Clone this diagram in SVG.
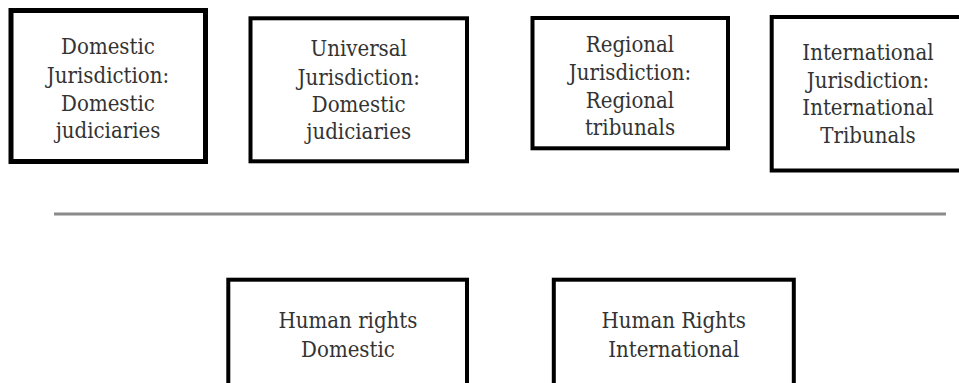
<svg xmlns="http://www.w3.org/2000/svg" width="959" height="383" viewBox="0 0 959 383">
<style>
.box{fill:#fff;stroke:#000;stroke-width:4}
.t{font-family:"DejaVu Serif Condensed","DejaVu Serif","Liberation Serif",serif;font-stretch:condensed;font-size:22px;fill:#333;text-anchor:middle}
</style>
<rect width="959" height="383" fill="#fff"/>
<g id="domestic-jurisdiction">
<rect class="box" x="11" y="10.5" width="194.5" height="151" style="stroke-width:5"/>
<text class="t" x="108" y="54">Domestic</text>
<text class="t" x="108" y="83">Jurisdiction:</text>
<text class="t" x="108" y="111">Domestic</text>
<text class="t" x="108" y="138">judiciaries</text>
</g>
<g id="universal-jurisdiction">
<rect class="box" x="250.5" y="18.3" width="216.5" height="143"/>
<text class="t" x="358.7" y="56">Universal</text>
<text class="t" x="358.7" y="84.5">Jurisdiction:</text>
<text class="t" x="358.7" y="112">Domestic</text>
<text class="t" x="358.7" y="139">judiciaries</text>
</g>
<g id="regional-jurisdiction">
<rect class="box" x="532.5" y="18" width="195.5" height="130.3"/>
<text class="t" x="630" y="52">Regional</text>
<text class="t" x="630" y="80">Jurisdiction:</text>
<text class="t" x="630" y="107.5">Regional</text>
<text class="t" x="630" y="135">tribunals</text>
</g>
<g id="international-jurisdiction">
<rect class="box" x="771.7" y="17" width="195" height="153.5"/>
<text class="t" x="868" y="60">International</text>
<text class="t" x="868" y="87.5">Jurisdiction:</text>
<text class="t" x="868" y="115">International</text>
<text class="t" x="868" y="143">Tribunals</text>
</g>
<g id="connectors">
<line x1="54" y1="214" x2="946" y2="214" stroke="#8a8a8a" stroke-width="3"/>
</g>
<g id="human-rights-domestic">
<rect class="box" x="228.3" y="279.7" width="238.7" height="130"/>
<text class="t" x="348" y="328">Human rights</text>
<text class="t" x="348" y="356.5">Domestic</text>
</g>
<g id="human-rights-international">
<rect class="box" x="553.8" y="279.7" width="240" height="130"/>
<text class="t" x="673.8" y="328">Human Rights</text>
<text class="t" x="673.8" y="356.5">International</text>
</g>
</svg>
